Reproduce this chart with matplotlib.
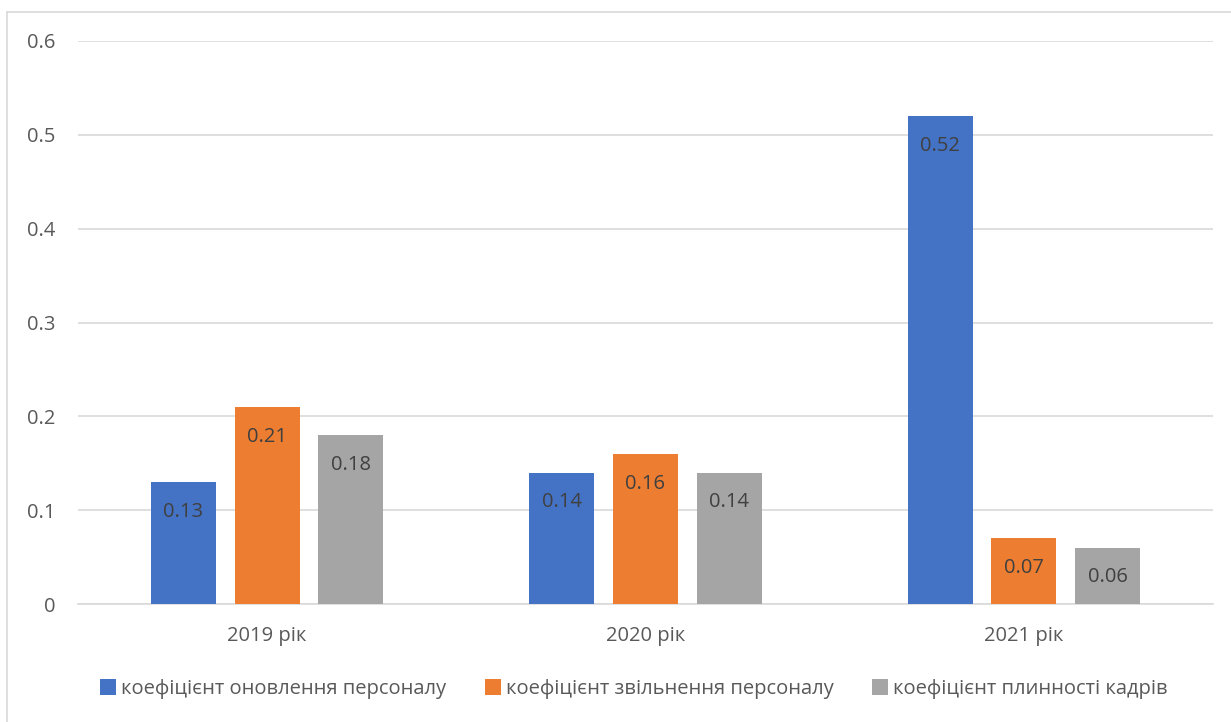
import numpy as np
import matplotlib.pyplot as plt
from matplotlib.lines import Line2D

plt.rcParams['font.family'] = ['Open Sans', 'DejaVu Sans']

years = ['2019 рік', '2020 рік', '2021 рік']
series_names = ['коефіцієнт оновлення персоналу',
                'коефіцієнт звільнення персоналу',
                'коефіцієнт плинності кадрів']
renewal = [0.13, 0.14, 0.52]
dismissal = [0.21, 0.16, 0.07]
turnover = [0.18, 0.14, 0.06]
colors = ['#4472C4', '#ED7D31', '#A5A5A5']
text_col = '#595959'
fs = 14.5

fig = plt.figure(figsize=(12.31, 7.22), dpi=100)
ax = fig.add_axes([78/1231, 1 - 604/722, 1135/1231, 563/722])

# рамка діаграми (видно лише верх і лівий край)
fig.add_artist(Line2D([7/1231, 1], [1 - 12/722, 1 - 12/722], transform=fig.transFigure,
                      color='#D9D9D9', linewidth=1.2))
fig.add_artist(Line2D([7/1231, 7/1231], [0, 1 - 12/722], transform=fig.transFigure,
                      color='#D9D9D9', linewidth=1.2))

x = np.arange(len(years))
w = 0.172
step = 0.221
for i, (vals, name) in enumerate(zip([renewal, dismissal, turnover], series_names)):
    pos = x + (i - 1) * step
    bars = ax.bar(pos, vals, w, color=colors[i], label=name, zorder=3)
    for b, v in zip(bars, vals):
        ax.text(b.get_x() + b.get_width() / 2, v - 0.021, '%.2f' % v,
                ha='center', va='top', fontsize=fs, color='#404040', zorder=4)

ax.set_xlim(-0.5, 2.5)
ax.set_ylim(0, 0.6)
ax.set_yticks([0, 0.1, 0.2, 0.3, 0.4, 0.5, 0.6])
ax.set_yticklabels(['0', '0.1', '0.2', '0.3', '0.4', '0.5', '0.6'])
ax.set_xticks(x)
ax.set_xticklabels(years)
ax.yaxis.grid(True, color='#D9D9D9', linewidth=1.2, zorder=0)
for s in ['top', 'right', 'left']:
    ax.spines[s].set_visible(False)
ax.spines['bottom'].set_color('#D9D9D9')
ax.spines['bottom'].set_linewidth(1.2)
ax.tick_params(axis='both', length=0, labelsize=fs, colors=text_col)
ax.tick_params(axis='y', pad=16)
ax.tick_params(axis='x', pad=16)

leg = fig.legend(loc='center', bbox_to_anchor=(0.515, 1 - 689/722), ncol=3,
                 frameon=False, fontsize=fs, handlelength=0.8, handleheight=0.8,
                 handletextpad=0.25, columnspacing=1.9)
for t in leg.get_texts():
    t.set_color(text_col)

fig.savefig('out.png', dpi=100)
